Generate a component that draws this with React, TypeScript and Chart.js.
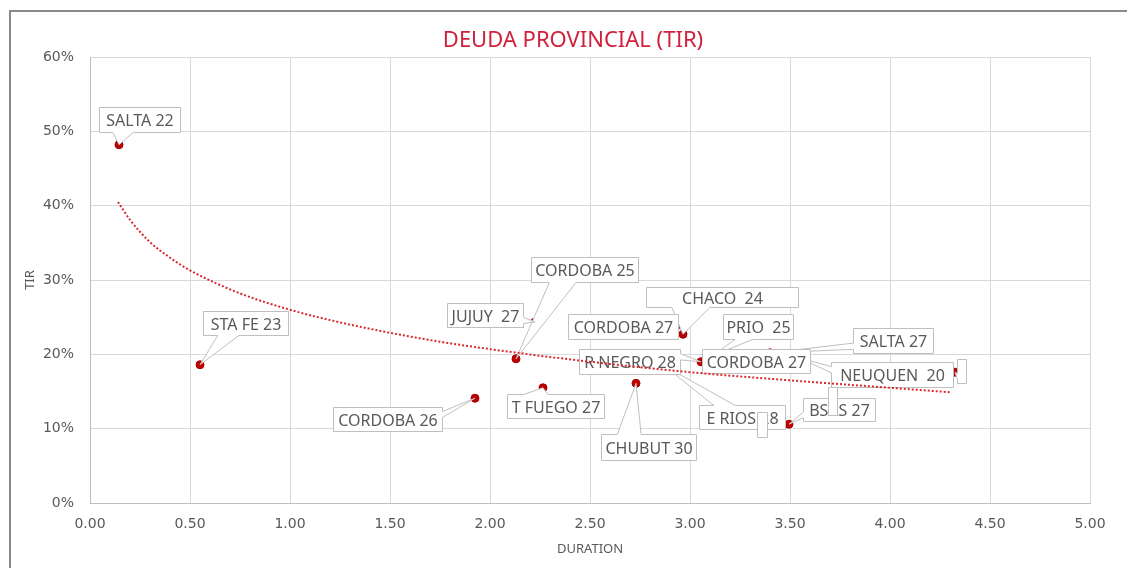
import { useEffect, useRef } from "react";
import { Chart, registerables } from "chart.js";

Chart.register(...registerables);

// ---- data ----
const bondNames = [
  "SALTA 22",
  "STA FE 23",
  "CORDOBA 26",
  "CORDOBA 25",
  "JUJUY  27",
  "T FUEGO 27",
  "CHUBUT 30",
  "E RIOS 28",
  "CHACO  24",
  "CORDOBA 27",
  "R NEGRO 28",
  "PRIO  25",
  "SALTA 27",
  "NEUQUEN  20",
  "CORDOBA 27",
  "BSAS 27",
  "",
];
const durations = [0.145, 0.55, 1.925, 2.13, 2.225, 2.265, 2.73, 2.875, 2.965, 2.93, 3.055, 3.11, 3.4, 3.55, 3.08, 3.495, 4.325];
const tirValues = [48.2, 18.6, 14.1, 19.4, 24.35, 15.5, 16.1, 18.4, 22.7, 23.8, 19.0, 19.8, 20.2, 19.5, 18.7, 10.6, 17.6];

// logarithmic trend line
const trendDurations = [0.14, 0.2, 0.3, 0.4, 0.5, 0.75, 1.0, 1.25, 1.5, 1.75, 2.0, 2.5, 3.0, 3.5, 4.0, 4.3];
const trendTir = [40.5, 38.1, 35.1, 33.0, 31.3, 28.2, 26.0, 24.3, 22.9, 21.7, 20.7, 19.0, 17.6, 16.5, 15.5, 14.9];

const chartTitle = "DEUDA PROVINCIAL (TIR)";
const xTitle = "DURATION";
const yTitle = "TIR";

// ---- label layout (box offsets from each point, in px: left, top, right, bottom) ----
const labelBoxes: number[][] = [
  [-20, -38, 61, -13],
  [3, -54, 88, -30],
  [-142, 9, -33, 33],
  [15, -102, 122, -77],
  [-88, -19, -12, 5],
  [-36, 6, 61, 30],
  [-35, 51, 60, 77],
  [34, 39, 120, 63],
  [-37, -47, 115, -27],
  [-108, -12, 2, 13],
  [-122, -13, -21, 12],
  [11, -42, 81, -17],
  [83, -25, 163, 0],
  [31, 4, 153, 29],
  [-4, -15, 104, 9],
  [14, -26, 86, -3],
  [2, -13, 11, 11],
];
const labelSides: (string | null)[] = [null, null, "right", null, null, null, null, null, null, null, null, null, null, null, null, null, null];
// empty callouts (point index, box offsets)
const emptyCallouts: [number, number[]][] = [
  [7, [92, 46, 102, 71]],
  [15, [39, -37, 48, -9]],
];

function drawCallout(
  ctx: CanvasRenderingContext2D,
  px: number,
  py: number,
  box: number[],
  text: string,
  side: string | null,
  wedge: boolean
) {
  const x1 = Math.round(px + box[0]) + 0.5;
  const y1 = Math.round(py + box[1]) + 0.5;
  const x2 = Math.round(px + box[2]) + 0.5;
  const y2 = Math.round(py + box[3]) + 0.5;
  const w = x2 - x1;
  const h = y2 - y1;
  const cx = (x1 + x2) / 2;
  const cy = (y1 + y2) / 2;
  const inside = px >= x1 && px <= x2 && py >= y1 && py <= y2;
  let s: string | null = null;
  if (wedge && !inside) {
    s = side;
    if (!s) {
      const nx = (px - cx) / w;
      const ny = (py - cy) / h;
      s = Math.abs(nx) > Math.abs(ny) ? (nx < 0 ? "left" : "right") : ny < 0 ? "top" : "bottom";
    }
  }
  const fr = (neg: boolean) => (neg ? [1 / 6, 5 / 12] : [7 / 12, 5 / 6]);
  const pts: number[][] = [[x1, y1]];
  if (s === "top") {
    const [a, b] = fr(px < cx);
    pts.push([x1 + a * w, y1], [px, py], [x1 + b * w, y1]);
  }
  pts.push([x2, y1]);
  if (s === "right") {
    const [a, b] = fr(py < cy);
    pts.push([x2, y1 + a * h], [px, py], [x2, y1 + b * h]);
  }
  pts.push([x2, y2]);
  if (s === "bottom") {
    const [a, b] = fr(px < cx);
    pts.push([x1 + b * w, y2], [px, py], [x1 + a * w, y2]);
  }
  pts.push([x1, y2]);
  if (s === "left") {
    const [a, b] = fr(py < cy);
    pts.push([x1, y1 + b * h], [px, py], [x1, y1 + a * h]);
  }
  ctx.beginPath();
  pts.forEach((p, i) => (i === 0 ? ctx.moveTo(p[0], p[1]) : ctx.lineTo(p[0], p[1])));
  ctx.closePath();
  ctx.fillStyle = "#ffffff";
  ctx.fill();
  ctx.strokeStyle = "#bfbfbf";
  ctx.lineWidth = 1;
  ctx.setLineDash([]);
  ctx.stroke();
  if (text) {
    ctx.fillStyle = "#595959";
    ctx.font = '16px "Noto Sans"';
    ctx.textAlign = "center";
    ctx.textBaseline = "alphabetic";
    ctx.fillText(text, cx, cy + 6);
  }
}

const calloutPlugin = {
  id: "callouts",
  afterDatasetDraw(chart: any, args: any) {
    if (args.index !== 1) return;
    const ctx: CanvasRenderingContext2D = chart.ctx;
    const meta = chart.getDatasetMeta(1);
    ctx.save();
    meta.data.forEach((el: any, i: number) => {
      drawCallout(ctx, el.x, el.y, labelBoxes[i], bondNames[i], labelSides[i], true);
    });
    emptyCallouts.forEach(([idx, box]) => {
      const el = meta.data[idx];
      drawCallout(ctx, el.x, el.y, box, "", null, false);
    });
    ctx.restore();
  },
  afterDraw(chart: any) {
    const ctx: CanvasRenderingContext2D = chart.ctx;
    ctx.save();
    ctx.fillStyle = "#d0213d";
    ctx.font = '22px "Noto Sans"';
    ctx.textAlign = "center";
    ctx.textBaseline = "alphabetic";
    ctx.fillText(chartTitle, 562, 35);
    ctx.restore();
  },
};

export default function App() {
  const ref = useRef<HTMLCanvasElement>(null);
  useEffect(() => {
    const tickFont = { family: "DejaVu Sans", size: 14 };
    const chart = new Chart(ref.current as HTMLCanvasElement, {
      type: "scatter",
      data: {
        datasets: [
          {
            label: "Trend",
            data: trendDurations.map((x, i) => ({ x, y: trendTir[i] })),
            showLine: true,
            borderColor: "#d8282c",
            borderWidth: 2,
            borderDash: [2, 2],
            pointRadius: 0,
            fill: false,
            cubicInterpolationMode: "monotone",
          } as any,
          {
            label: "TIR",
            data: durations.map((x, i) => ({ x, y: tirValues[i] })),
            pointRadius: 4,
            pointBackgroundColor: "#c00000",
            pointBorderColor: "#a30000",
            pointBorderWidth: 1,
          },
        ],
      },
      options: {
        responsive: false,
        animation: false,
        layout: { padding: { top: 45, right: 37, left: 0, bottom: 0 } },
        plugins: {
          legend: { display: false },
          tooltip: { enabled: false },
          title: { display: false },
        },
        scales: {
          x: {
            type: "linear",
            min: 0,
            max: 5,
            ticks: {
              stepSize: 0.5,
              callback: (v: any) => Number(v).toFixed(2),
              font: tickFont,
              color: "#595959",
              padding: 13,
              maxRotation: 0,
              autoSkip: false,
            },
            grid: { color: "#d9d9d9", drawTicks: false },
            border: { color: "#bfbfbf" },
            title: {
              display: true,
              text: xTitle,
              font: { family: "Noto Sans", size: 13 },
              color: "#595959",
              padding: { top: 0, bottom: 11 },
            },
            afterFit: (s: any) => {
              s.height = 65;
            },
          },
          y: {
            type: "linear",
            min: 0,
            max: 60,
            ticks: {
              stepSize: 10,
              callback: (v: any) => v + "%",
              font: tickFont,
              color: "#595959",
              padding: 16,
            },
            grid: { color: "#d9d9d9", drawTicks: false },
            border: { color: "#bfbfbf" },
            title: {
              display: true,
              text: yTitle,
              font: { family: "Noto Sans", size: 13 },
              color: "#595959",
              padding: { top: 11, bottom: 0 },
            },
            afterFit: (s: any) => {
              s.width = 79;
            },
          },
        },
      } as any,
      plugins: [calloutPlugin],
    });
    return () => chart.destroy();
  }, []);

  return (
    <div
      style={{
        position: "fixed",
        left: 9,
        top: 10,
        width: 1116,
        height: 556,
        borderLeft: "2px solid #8a8a8a",
        borderTop: "2px solid #8a8a8a",
        background: "#ffffff",
      }}
    >
      <canvas ref={ref} width={1116} height={556} style={{ display: "block" }} />
    </div>
  );
}
